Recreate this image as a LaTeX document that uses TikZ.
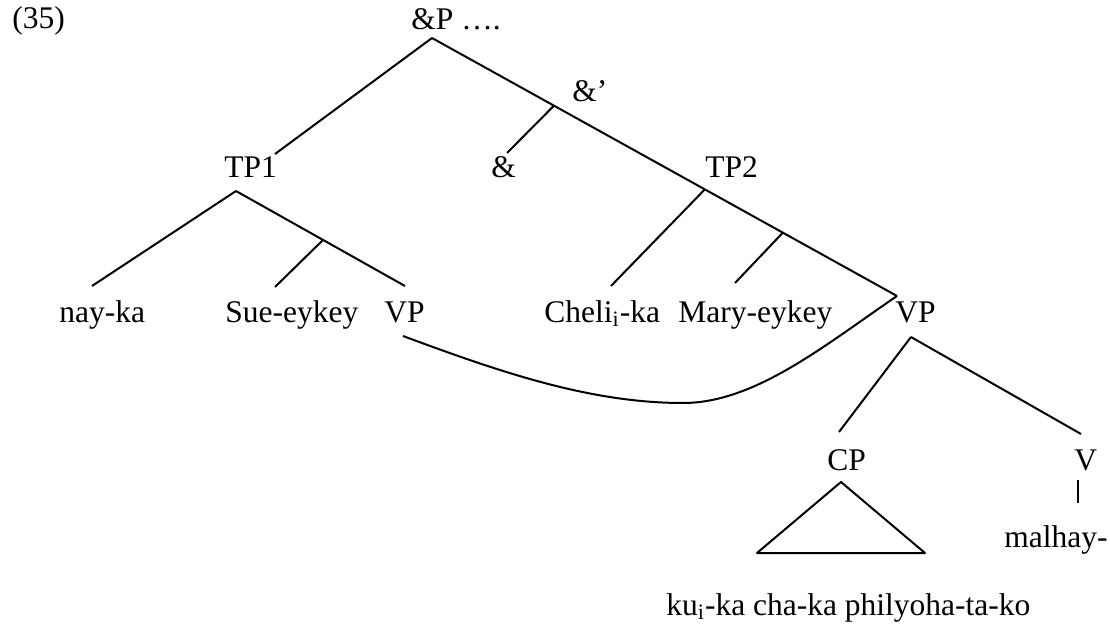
\documentclass[tikz,border=0pt]{standalone}
\usepackage{fontspec}
\setmainfont{Liberation Serif}
\tikzset{
  lbl/.style={anchor=base west,inner sep=0pt,font=\fontsize{15.75}{19}\selectfont},
  branch/.style={line width=1pt}
}

\begin{document}
\begin{tikzpicture}[x=0.5pt,y=-0.5pt,line join=round]
\useasboundingbox (0,0) rectangle (1110,626);
% labels
\node[lbl] (ex) at (12,29) {(35)};
\node[lbl] (andP) at (411,30) {\&P ….};
\node[lbl] (andbar) at (572,102) {\&’};
\node[lbl] (tpone) at (224,177) {TP1};
\node[lbl] (andhead) at (491,177) {\&};
\node[lbl] (tptwo) at (705,177) {TP2};
\node[lbl] (nayka) at (59,322) {nay-ka};
\node[lbl] (sue) at (225,322) {Sue-eykey};
\node[lbl] (vpone) at (384,322) {VP};
\node[lbl] (cheli) at (544,322) {Cheli\textsubscript{i}-ka};
\node[lbl] (mary) at (678,322) {Mary-eykey};
\node[lbl] (vptwo) at (895,322) {VP};
\node[lbl] (cp) at (827,470) {CP};
\node[lbl] (verb) at (1074,470) {V};
\node[lbl] (malhay) at (1004,547) {malhay-};
\node[lbl] (kuka) at (666,615) {ku\textsubscript{i}-ka cha-ka philyoha-ta-ko};
% branch ends
\coordinate (andPlow) at (432,38);
\coordinate (tponeUp) at (275,154);
\coordinate (vptwoUp) at (897,296);
\coordinate (jAnd) at (554,105.6);
\coordinate (andUp) at (507,153);
\coordinate (jTwo) at (705,189.2);
\coordinate (cheliUp) at (611,286);
\coordinate (jMary) at (783,232.5);
\coordinate (maryUp) at (735,283);
\coordinate (tponeLow) at (236,191);
\coordinate (naykaUp) at (92,286);
\coordinate (vponeUp) at (405,286);
\coordinate (jSue) at (323,240);
\coordinate (sueUp) at (275,287);
\coordinate (vponeLow) at (403,336);
\coordinate (vptwoLow) at (911,337);
\coordinate (cpUp) at (839,432);
\coordinate (verbUp) at (1081,434);
\coordinate (verbLow) at (1078,480);
\coordinate (malhayUp) at (1078,503);
\coordinate (triTop) at (841,482);
\coordinate (triLeft) at (757,553);
\coordinate (triRight) at (925,553);
% &P
\draw[branch] (andPlow) -- (tponeUp);
\draw[branch] (andPlow) -- (vptwoUp);
\draw[branch] (jAnd) -- (andUp);
\draw[branch] (jTwo) -- (cheliUp);
\draw[branch] (jMary) -- (maryUp);
% TP1
\draw[branch] (tponeLow) -- (naykaUp);
\draw[branch] (tponeLow) -- (vponeUp);
\draw[branch] (jSue) -- (sueUp);
% shared VP
\draw[branch] (vponeLow) .. controls (500,372) and (590,403) .. (683,403)
  .. controls (755,403) and (825,345) .. (vptwoUp);
\draw[branch] (vptwoLow) -- (cpUp);
\draw[branch] (vptwoLow) -- (verbUp);
\draw[branch] (verbLow) -- (malhayUp);
\draw[branch] (triTop) -- (triRight) -- (triLeft) -- cycle;
\end{tikzpicture}
\end{document}
